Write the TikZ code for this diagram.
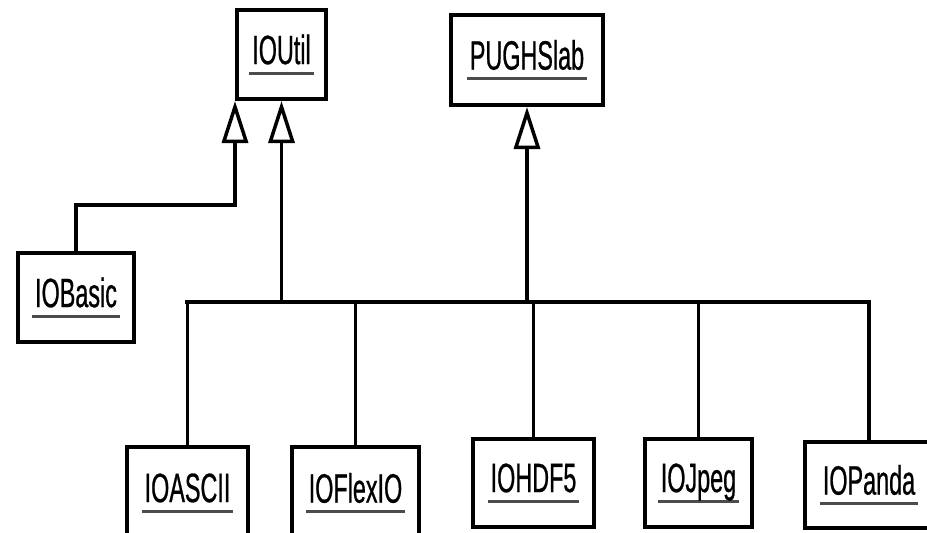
\documentclass[tikz,border=0pt]{standalone}
\usepackage{fontspec}
\newfontfamily\umlfont{Liberation Sans}[FakeStretch=0.57,FakeBold=0.6]
\usetikzlibrary{arrows.meta}
\definecolor{ulgray}{gray}{0.3}
\newcommand{\ulname}[1]{\setbox0\hbox{#1}\rlap{\hspace{-3pt}\color{ulgray}\rule[-10.5pt]{\dimexpr\wd0+6pt\relax}{2.8pt}}\box0}

\begin{document}
\begin{tikzpicture}
                [x=1pt,y=-1pt,
                cls/.style={draw,line width=4pt,fill=white,inner sep=0pt,minimum height=89pt,
                            font={\umlfont\fontsize{41}{42}\selectfont}},
                link/.style={line width=3.2pt},
                bus/.style={line width=4.5pt,line cap=rect},
                inherit/.style={link,-{Triangle[open,length=42pt,width=26pt,line width=3.5pt]}}]
                \useasboundingbox (0,0) rectangle (927,533);
                \node[cls,minimum width=89pt] (IOUtil) at (281.5,54.5) {\ulname{IOUtil}};
                \node[cls,minimum width=152pt,minimum height=90pt] (PUGHSlab) at (527,60) {\ulname{PUGHSlab}};
                \node[cls,minimum width=116pt] (IOBasic) at (76,297.5) {\ulname{IOBasic}};
                \node[cls,minimum width=121pt,minimum height=92pt] (IOASCII) at (187.5,493) {\ulname{IOASCII}};
                \node[cls,minimum width=127pt,minimum height=92pt] (IOFlexIO) at (355.5,493) {\ulname{IOFlexIO}};
                \node[cls,minimum width=121pt,minimum height=88pt] (IOHDF5) at (533.5,483) {\ulname{IOHDF5}};
                \node[cls,minimum width=107pt,minimum height=88pt] (IOJpeg) at (698.5,483) {\ulname{IOJpeg}};
                \node[cls,minimum width=128pt,minimum height=86pt] (IOPanda) at (869,485) {\ulname{IOPanda}};
                \coordinate (bus) at (0,302);
                \coordinate (bend) at (0,205);
                \draw[bus] (IOASCII.north |- bus) -- (IOPanda.north |- bus);
                \path[link] (IOASCII.north |- bus) edge (IOASCII.north)
                            (IOFlexIO.north |- bus) edge (IOFlexIO.north)
                            (IOHDF5.north |- bus) edge (IOHDF5.north)
                            (IOJpeg.north |- bus) edge (IOJpeg.north)
                            (IOPanda.north |- bus) edge (IOPanda.north)
                            (IOUtil.south |- bus) edge[inherit] (IOUtil.south)
                            (PUGHSlab.south |- bus) edge[inherit] (PUGHSlab.south);
                \draw[inherit] (IOBasic.north) |- (IOUtil.south west |- bend) -- (IOUtil.south west);
            \end{tikzpicture}
\end{document}
